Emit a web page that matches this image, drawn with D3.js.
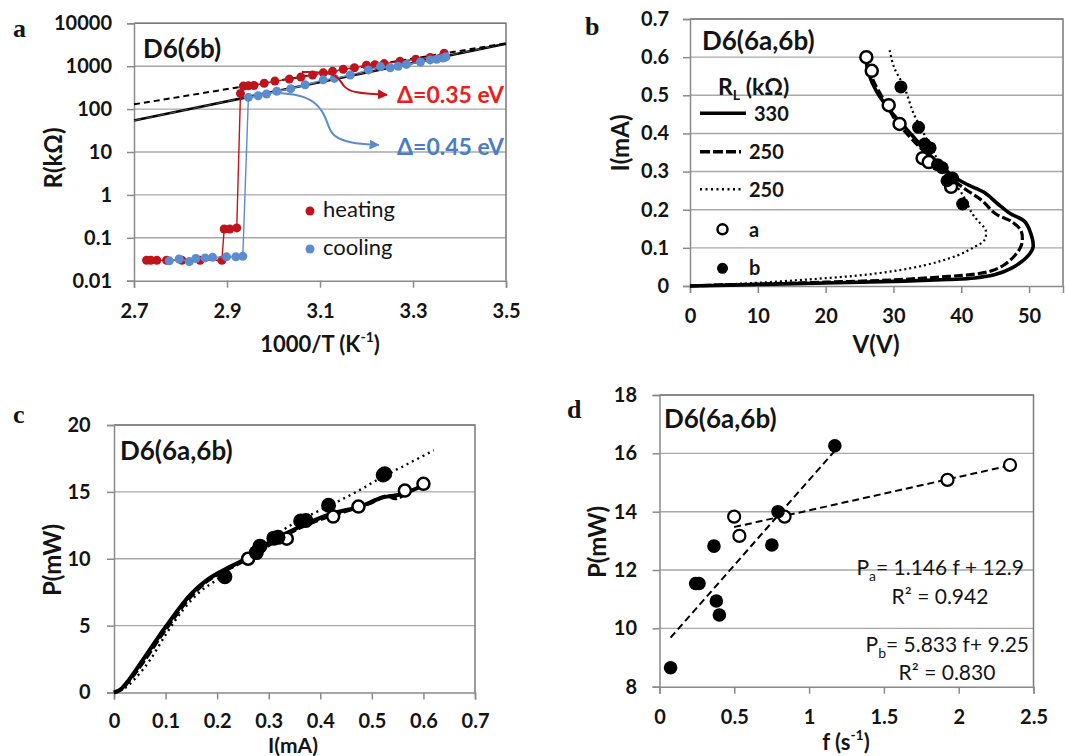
<!DOCTYPE html>
<html>
<head>
<meta charset="utf-8">
<script src="https://cdn.jsdelivr.net/npm/d3@7"></script>
<style>
  body { margin: 0; background: #fff; }
  text { font-family: Lato, "Open Sans", sans-serif; fill: #141414; }
</style>
</head>
<body>
<script>
// ---------- panel a : R vs 1000/T ----------
const heatX = [2.727, 2.736, 2.749, 2.770, 2.803, 2.842, 2.889, 2.894, 2.906, 2.921, 2.929, 2.935, 2.946, 2.958, 2.980, 3.003, 3.034, 3.059, 3.084, 3.107, 3.127, 3.150, 3.174, 3.200, 3.218, 3.238, 3.272, 3.306, 3.337, 3.367];
const heatR = [0.03, 0.03, 0.03, 0.03, 0.03, 0.03, 0.03, 0.16, 0.16, 0.17, 232, 344, 350, 355, 400, 450, 500, 560, 620, 700, 760, 850, 920, 1050, 1080, 1150, 1300, 1450, 1600, 2000];
const coolX = [2.776, 2.797, 2.819, 2.833, 2.853, 2.869, 2.899, 2.919, 2.934, 2.946, 2.967, 2.985, 3.007, 3.037, 3.068, 3.107, 3.131, 3.165, 3.204, 3.230, 3.251, 3.268, 3.286, 3.316, 3.337, 3.351, 3.365, 3.371];
const coolR = [0.029, 0.032, 0.028, 0.033, 0.034, 0.035, 0.036, 0.036, 0.037, 187, 205, 225, 260, 300, 370, 480, 520, 620, 820, 980, 920, 1000, 1100, 1250, 1400, 1450, 1550, 1650];
const fitX = [2.7, 3.5];
const fitHeatR = [129, 3420];   // dashed, 0.35 eV
const fitCoolR = [54, 3350];    // solid, 0.45 eV
const arrowRed = [[3.061, 733], [3.137, 733], [3.149, 327], [3.171, 237], [3.244, 215]];
const arrowBlue = [[3.000, 241], [3.071, 213], [3.107, 95], [3.118, 39], [3.129, 22.7], [3.164, 16], [3.226, 14.6]];
const aXTicks = [2.7, 2.9, 3.1, 3.3, 3.5];
const aYTicks = [0.01, 0.1, 1, 10, 100, 1000, 10000];

// ---------- panel b : I-V ----------
const ivSolid330 = [[0,0],[10,0.004],[20,0.008],[30,0.012],[38,0.017],[42,0.021],[45,0.03],[47.2,0.045],[49,0.065],[50.2,0.087],[50.6,0.103],[50.1,0.145],[49.3,0.17],[47.2,0.19],[45.4,0.215],[43.4,0.245],[41,0.265],[39,0.285],[37,0.315],[34.5,0.36],[32,0.41],[29.5,0.46],[27.5,0.51],[26.3,0.56],[25.9,0.6]];
const ivDash250 = [[0,0],[5,0.003],[10,0.005],[20,0.01],[30,0.016],[38,0.025],[42,0.031],[44.5,0.04],[46.3,0.055],[47.8,0.078],[48.7,0.1],[49,0.12],[48.8,0.145],[47.5,0.168],[45,0.19],[43,0.225],[40.5,0.255],[38,0.29],[35.5,0.335],[33,0.38],[30.5,0.43],[28.5,0.49],[27,0.54],[26.5,0.57]];
const ivDot250 = [[0,0],[7.5,0.006],[17.3,0.017],[27.1,0.032],[34.5,0.054],[39.4,0.08],[41.9,0.102],[43.4,0.12],[43.6,0.146],[42.4,0.172],[41.6,0.19],[40.4,0.233],[38.4,0.285],[36,0.347],[34.5,0.399],[33,0.451],[31.6,0.521],[30.1,0.573],[29.4,0.621]];
const ivOpenV = [26, 26.8, 29.3, 30.9, 34.3, 35.2, 38.5];
const ivOpenI = [0.6, 0.564, 0.474, 0.425, 0.335, 0.325, 0.26];
const ivFillV = [40.2, 37.9, 38.7, 37.2, 36.5, 35.4, 34.6, 33.7, 31.1];
const ivFillI = [0.215, 0.276, 0.283, 0.31, 0.318, 0.362, 0.372, 0.416, 0.522];
const bXTicks = [0, 10, 20, 30, 40, 50];
const bYTicks = [0, 0.1, 0.2, 0.3, 0.4, 0.5, 0.6, 0.7];

// ---------- panel c : P vs I ----------
const piSolid = [[0,0],[0.015,0.3],[0.03,1.0],[0.05,2.1],[0.1,4.9],[0.15,7.4],[0.18,8.4],[0.22,9.3],[0.26,10.1],[0.296,11.1],[0.361,12.4],[0.425,13.4],[0.477,13.9],[0.522,14.6],[0.555,14.8],[0.6,15.5]];
const piDash = [[0,0],[0.015,0.25],[0.03,0.9],[0.05,1.9],[0.1,4.7],[0.15,7.2],[0.18,8.3],[0.22,9.2],[0.26,10.0],[0.3,11.0],[0.36,12.3],[0.42,13.2],[0.47,13.8],[0.5,14.2],[0.53,14.7],[0.545,14.5],[0.57,15.0]];
const piDot = [[0,0],[0.02,0.3],[0.04,1.0],[0.07,2.44],[0.102,4.43],[0.134,6.18],[0.167,7.55],[0.199,8.42],[0.231,9.41],[0.296,11.16],[0.328,12.15],[0.361,12.9],[0.393,13.5],[0.425,14.1],[0.47,15.0],[0.52,16.1],[0.57,17.1],[0.62,18.1]];
const piOpenI = [0.26, 0.335, 0.425, 0.474, 0.564, 0.6];
const piOpenP = [10.0, 11.5, 13.15, 13.9, 15.1, 15.6];
const piFillI = [0.215, 0.276, 0.283, 0.31, 0.318, 0.362, 0.372, 0.416, 0.522, 0.525];
const piFillP = [8.65, 10.46, 10.94, 11.54, 11.6, 12.82, 12.86, 14.0, 16.26, 16.35];
const cXTicks = [0, 0.1, 0.2, 0.3, 0.4, 0.5, 0.6, 0.7];
const cYTicks = [0, 5, 10, 15, 20];

// ---------- panel d : P vs f ----------
const pfOpenF = [0.499, 0.534, 0.836, 1.925, 2.343];
const pfOpenP = [13.83, 13.17, 13.83, 15.09, 15.6];
const pfFillF = [0.074, 0.242, 0.264, 0.364, 0.38, 0.40, 0.751, 0.792, 1.172];
const pfFillP = [8.65, 11.54, 11.54, 12.82, 10.94, 10.46, 12.86, 14.0, 16.26];
const fitA = {slope: 1.146, icpt: 12.9};
const fitB = {slope: 5.833, icpt: 9.25};
const dXTicks = [0, 0.5, 1, 1.5, 2, 2.5];
const dYTicks = [8, 10, 12, 14, 16, 18];

const svg = d3.select("body").append("svg")
    .attr("width", 1065)
    .attr("height", 756);

const gridCol = "#a8a8a8", axisCol = "#8a8a8a";

// frame, grid and axes for one panel
function panel(p) {
    const g = svg.append("g");
    const x = d3.scaleLinear().domain(p.xDomain).range([p.left, p.right]);
    const y = (p.log ? d3.scaleLog() : d3.scaleLinear()).domain(p.yDomain).range([p.bottom, p.top]);

    g.selectAll(".grid").data(p.yTicks.slice(1)).enter().append("line")
        .attr("x1", p.left).attr("x2", p.right)
        .attr("y1", d => y(d)).attr("y2", d => y(d))
        .attr("stroke", gridCol).attr("stroke-width", 1.4);

    g.append("path")
        .attr("d", `M${p.left},${p.top}H${p.right}V${p.bottom}`)
        .attr("fill", "none").attr("stroke", "#7a7a7a").attr("stroke-width", 1.5);

    const xa = g.append("g")
        .attr("transform", `translate(0,${p.bottom})`)
        .call(d3.axisBottom(x).tickValues(p.xTicks).tickSize(7).tickFormat(String));
    xa.selectAll("text").attr("dy", null).attr("y", p.xLabelY || 37);

    const ya = g.append("g")
        .attr("transform", `translate(${p.left},0)`)
        .call(d3.axisLeft(y).tickValues(p.yTicks).tickSize(7).tickPadding(p.pad).tickFormat(String));

    [xa, ya].forEach(a => {
        a.select(".domain").attr("stroke", axisCol).attr("stroke-width", 1.5);
        a.selectAll(".tick line").attr("stroke", axisCol).attr("stroke-width", 1.5);
        a.selectAll("text")
            .style("font-family", "Lato, sans-serif")
            .style("font-size", "20px")
            .style("font-weight", "bold")
            .attr("fill", "#141414");
    });
    return {g, x, y};
}

function label(txt, x, y, size, opts = {}) {
    const t = svg.append("text")
        .attr("x", x).attr("y", y)
        .style("font-size", size + "px")
        .style("font-weight", opts.weight || "bold")
        .attr("text-anchor", opts.anchor || "start")
        .text(txt);
    if (opts.fill) t.style("fill", opts.fill);
    if (opts.family) t.style("font-family", opts.family);
    if (opts.rotate) t.attr("transform", `rotate(-90,${x},${y})`);
    if (opts.middle) t.attr("dominant-baseline", "central");
    return t;
}

function letter(txt, x, y) {
    label(txt, x, y, 26, {family: "'Liberation Serif', 'DejaVu Serif', serif"});
}

function circles(g, x, y, xs, ys, r, filled, sw) {
    g.selectAll(null).data(xs).enter().append("circle")
        .attr("cx", d => x(d))
        .attr("cy", (d, i) => y(ys[i]))
        .attr("r", r)
        .attr("fill", filled ? "#000" : "#fff")
        .attr("stroke", "#000")
        .attr("stroke-width", filled ? 0 : sw);
}

function curve(g, x, y, pts, width, dash, kind) {
    g.append("path")
        .datum(pts)
        .attr("fill", "none")
        .attr("stroke", "#000")
        .attr("stroke-width", width)
        .attr("stroke-dasharray", dash)
        .attr("stroke-linejoin", "round")
        .attr("d", d3.line().x(d => x(d[0])).y(d => y(d[1])).curve(kind || d3.curveCatmullRom));
}

// ================= a =================
const A = panel({left: 134, right: 506, top: 23.3, bottom: 280.7, xDomain: [2.7, 3.5], yDomain: [0.01, 10000],
                 log: true, xTicks: aXTicks, yTicks: aYTicks, pad: 15});
{
    const {g, x, y} = A;
    const lineA = d3.line().x(d => x(d[0])).y(d => y(d[1]));
    g.append("path").datum(fitX.map((v, i) => [v, fitCoolR[i]]))
        .attr("d", lineA).attr("stroke", "#000").attr("stroke-width", 2.6).attr("fill", "none");
    g.append("path").datum(fitX.map((v, i) => [v, fitCoolR[i]]))
        .attr("d", lineA).attr("stroke", "#666").attr("stroke-width", 0.8).attr("stroke-dasharray", "7,5").attr("fill", "none");
    g.append("path").datum(fitX.map((v, i) => [v, fitHeatR[i]]))
        .attr("d", lineA).attr("stroke", "#000").attr("stroke-width", 2).attr("stroke-dasharray", "6,4").attr("fill", "none");

    const series = [
        {xs: heatX, ys: heatR, col: "#c0141c"},
        {xs: coolX, ys: coolR, col: "#5b8cd0"}
    ];
    series.forEach(s => {
        g.append("path").datum(s.xs.map((v, i) => [v, s.ys[i]]))
            .attr("d", lineA).attr("stroke", s.col).attr("stroke-width", 1.4).attr("fill", "none");
        g.selectAll(null).data(s.xs).enter().append("circle")
            .attr("cx", d => x(d)).attr("cy", (d, i) => y(s.ys[i]))
            .attr("r", 4.5).attr("fill", s.col);
    });

    // annotation arrows
    const defs = svg.append("defs");
    [["arrRed", "#c0141c"], ["arrBlue", "#5b8cd0"]].forEach(([id, c]) => {
        defs.append("marker").attr("id", id).attr("viewBox", "0 0 10 10")
            .attr("refX", 9).attr("refY", 5).attr("markerWidth", 5).attr("markerHeight", 5)
            .attr("orient", "auto")
            .append("path").attr("d", "M0,0L10,5L0,10Z").attr("fill", c);
    });
    const arrowLine = d3.line().x(d => x(d[0])).y(d => y(d[1])).curve(d3.curveBasis);
    g.append("path").datum(arrowRed).attr("d", arrowLine).attr("fill", "none")
        .attr("stroke", "#c0141c").attr("stroke-width", 2).attr("marker-end", "url(#arrRed)");
    g.append("path").datum(arrowBlue).attr("d", arrowLine).attr("fill", "none")
        .attr("stroke", "#5b8cd0").attr("stroke-width", 2).attr("marker-end", "url(#arrBlue)");

    label("\u0394=0.35 eV", 397, 103, 23, {fill: "#ee1c1c"});
    label("\u0394=0.45 eV", 397, 155, 23, {fill: "#4a7cc8"});

    // legend
    svg.append("circle").attr("cx", 310).attr("cy", 211).attr("r", 4.5).attr("fill", "#c0141c");
    svg.append("circle").attr("cx", 310).attr("cy", 249).attr("r", 4.5).attr("fill", "#5b8cd0");
    label("heating", 323, 217, 22, {weight: "normal"});
    label("cooling", 323, 255, 22, {weight: "normal"});

    letter("a", 13, 37);
    label("D6(6b)", 143, 58, 26);
    label("R(k\u03A9)", 52, 158, 24, {anchor: "middle", rotate: true, middle: true});
    const t = label("1000/T (K", 320, 343, 22, {anchor: "middle", middle: true});
    t.append("tspan").attr("dy", -7).style("font-size", "14px").text("-1");
    t.append("tspan").attr("dy", 7).text(")");
}

// ================= b =================
const B = panel({left: 690, right: 1063, top: 19, bottom: 286, xDomain: [0, 55], yDomain: [0, 0.7],
                 xTicks: bXTicks, yTicks: bYTicks, pad: 14});
{
    const {g, x, y} = B;
    curve(g, x, y, ivDot250, 2.2, "2,3");
    curve(g, x, y, ivDash250, 3.2, "9,3");
    curve(g, x, y, ivSolid330, 3.6, null);
    circles(g, x, y, ivOpenV, ivOpenI, 6, false, 2.5);
    circles(g, x, y, ivFillV, ivFillI, 6.5, true);

    letter("b", 585, 35);
    label("D6(6a,6b)", 702, 50, 26);
    label("I(mA)", 619, 143, 24, {anchor: "middle", rotate: true, middle: true});
    label("V(V)", 876, 343, 24, {anchor: "middle", middle: true});

    // legend
    const lt = label("R", 718, 95, 23);
    lt.append("tspan").attr("dy", 5).style("font-size", "14px").text("L");
    lt.append("tspan").attr("dy", -5).text(" (k\u03A9)");
    const leg = [
        {y: 113.3, x2: 746, w: 3.5, dash: null, txt: "330", tx: 754},
        {y: 151.7, x2: 741, w: 3.5, dash: "10,3", txt: "250", tx: 749},
        {y: 189.3, x2: 743, w: 2.5, dash: "2,3.5", txt: "250", tx: 749}
    ];
    leg.forEach(d => {
        svg.append("line").attr("x1", 700).attr("x2", d.x2).attr("y1", d.y).attr("y2", d.y)
            .attr("stroke", "#000").attr("stroke-width", d.w).attr("stroke-dasharray", d.dash);
        label(d.txt, d.tx, d.y + 7.4, 20);
    });
    svg.append("circle").attr("cx", 722.5).attr("cy", 229.3).attr("r", 5)
        .attr("fill", "#fff").attr("stroke", "#000").attr("stroke-width", 2.5);
    svg.append("circle").attr("cx", 722.5).attr("cy", 268.3).attr("r", 5.5).attr("fill", "#000");
    label("a", 749, 236.7, 20);
    label("b", 749, 275, 20);
}

// ================= c =================
const C = panel({left: 114, right: 475, top: 425, bottom: 692.5, xDomain: [0, 0.7], yDomain: [0, 20],
                 xTicks: cXTicks, yTicks: cYTicks, pad: 16.3, xLabelY: 35});
{
    const {g, x, y} = C;
    curve(g, x, y, piDot, 2.4, "2,4", d3.curveMonotoneX);
    curve(g, x, y, piDash, 3.4, "9,3", d3.curveMonotoneX);
    curve(g, x, y, piSolid, 4, null, d3.curveMonotoneX);
    circles(g, x, y, piOpenI, piOpenP, 6, false, 2.5);
    circles(g, x, y, piFillI, piFillP, 7.5, true);

    letter("c", 13, 423);
    label("D6(6a,6b)", 120, 460, 26);
    label("P(mW)", 51, 560, 24, {anchor: "middle", rotate: true, middle: true});
    label("I(mA)", 293, 744, 21, {anchor: "middle", middle: true});
}

// ================= d =================
const D = panel({left: 659.5, right: 1033.5, top: 395, bottom: 686.7, xDomain: [0, 2.5], yDomain: [8, 18],
                 xTicks: dXTicks, yTicks: dYTicks, pad: 15.5});
{
    const {g, x, y} = D;
    const trend = (fit, xs) => d3.extent(xs).map(f => [f, fit.slope * f + fit.icpt]);
    curve(g, x, y, trend(fitB, pfFillF), 2, "7,4", d3.curveLinear);
    curve(g, x, y, trend(fitA, pfOpenF), 2, "7,4", d3.curveLinear);
    circles(g, x, y, pfOpenF, pfOpenP, 6, false, 2.2);
    circles(g, x, y, pfFillF, pfFillP, 6.8, true);

    letter("d", 567, 418);
    label("D6(6a,6b)", 664, 428, 26);
    label("P(mW)", 596, 542, 24, {anchor: "middle", rotate: true, middle: true});
    const ft = label("f (s", 846, 741, 22, {anchor: "middle", middle: true});
    ft.append("tspan").attr("dy", -7).style("font-size", "14px").text("-1");
    ft.append("tspan").attr("dy", 7).text(")");

    const eq = (sub, rest, xr, yb) => {
        const t = label("P", xr, yb, 21, {anchor: "end", weight: "normal"});
        t.append("tspan").attr("dy", 6).style("font-size", "14px").text(sub);
        t.append("tspan").attr("dy", -6).text(rest);
    };
    eq("a", "= " + fitA.slope.toFixed(3) + " f + " + fitA.icpt, 1024, 575);
    label("R\u00B2 = 0.942", 940, 604, 21, {anchor: "middle", weight: "normal"});
    eq("b", "= " + fitB.slope.toFixed(3) + " f+ " + fitB.icpt, 1029, 652);
    label("R\u00B2 = 0.830", 947, 680, 21, {anchor: "middle", weight: "normal"});
}
</script>
</body>
</html>
